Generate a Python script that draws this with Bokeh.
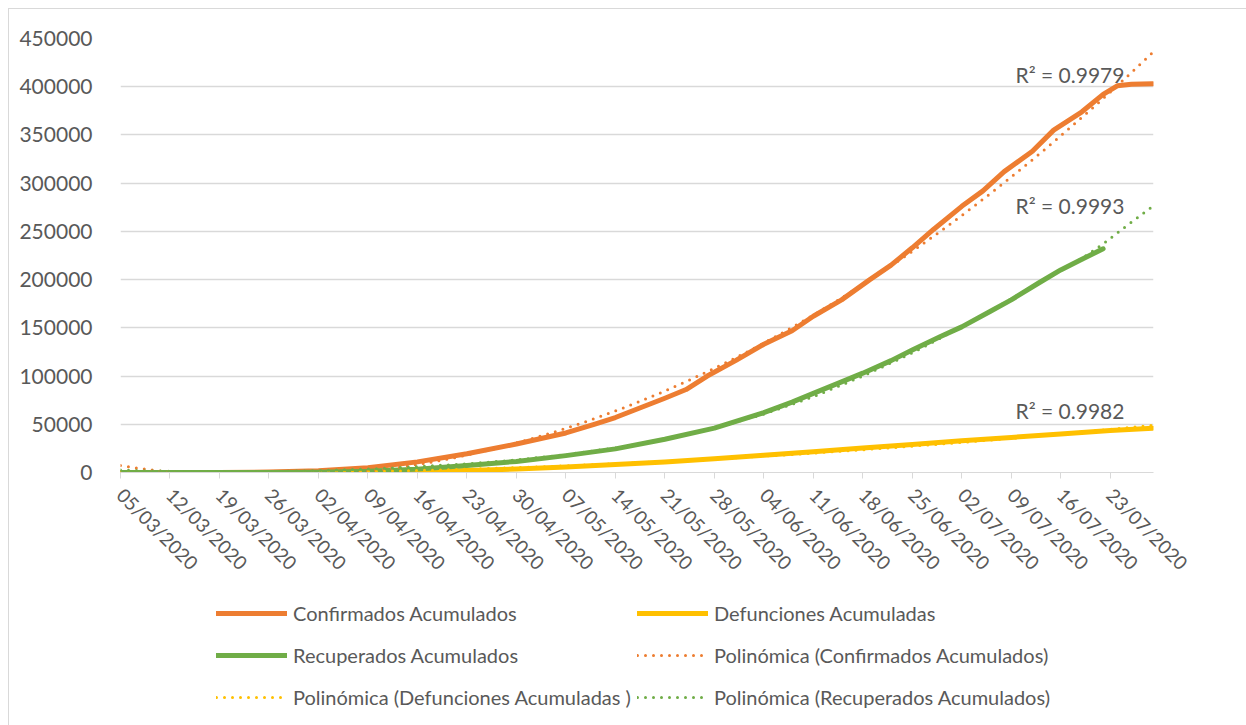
import numpy as np
import pandas as pd
from bokeh.plotting import figure
from bokeh.layouts import column
from bokeh.models import (Legend, LegendItem, FixedTicker, DatetimeTickFormatter,
                          Range1d, BasicTickFormatter, Label)
from bokeh.embed import file_html
from bokeh.resources import INLINE

# Cumulative counts (confirmed, recovered, deaths)
conf_dates = ["05/03/2020", "12/03/2020", "19/03/2020", "26/03/2020", "02/04/2020",
              "09/04/2020", "16/04/2020", "23/04/2020", "30/04/2020", "07/05/2020",
              "11/05/2020", "14/05/2020", "21/05/2020", "24/05/2020", "27/05/2020",
              "31/05/2020", "04/06/2020", "08/06/2020", "11/06/2020", "15/06/2020",
              "19/06/2020", "22/06/2020", "25/06/2020", "28/06/2020", "02/07/2020",
              "05/07/2020", "08/07/2020", "12/07/2020", "15/07/2020", "19/07/2020",
              "22/07/2020", "24/07/2020", "26/07/2020", "29/07/2020"]
conf_vals = [0, 20, 100, 450, 1800,
             5000, 11000, 19500, 29500, 41000,
             50000, 57000, 77000, 86000, 100000,
             116000, 133000, 147000, 162000, 179000,
             200000, 215000, 233000, 252000, 276000,
             292000, 312000, 333000, 355000, 374000,
             392000, 401000, 402500, 403000]

rec_dates = ["05/03/2020", "19/03/2020", "26/03/2020", "02/04/2020", "09/04/2020",
             "16/04/2020", "23/04/2020", "30/04/2020", "07/05/2020", "14/05/2020",
             "21/05/2020", "28/05/2020", "04/06/2020", "08/06/2020", "11/06/2020",
             "15/06/2020", "18/06/2020", "22/06/2020", "25/06/2020", "29/06/2020",
             "02/07/2020", "06/07/2020", "09/07/2020", "13/07/2020", "16/07/2020",
             "19/07/2020", "22/07/2020"]
rec_vals = [0, 5, 30, 300, 1200,
            3500, 7300, 11500, 17500, 24500,
            34500, 46000, 62000, 73000, 82000,
            94000, 103000, 116000, 127000, 141000,
            151000, 167000, 179000, 197000, 210000,
            221000, 232000]

def_dates = ["05/03/2020", "19/03/2020", "26/03/2020", "02/04/2020", "09/04/2020",
             "16/04/2020", "23/04/2020", "30/04/2020", "07/05/2020", "14/05/2020",
             "21/05/2020", "28/05/2020", "04/06/2020", "11/06/2020", "18/06/2020",
             "25/06/2020", "02/07/2020", "09/07/2020", "16/07/2020", "23/07/2020",
             "29/07/2020"]
def_vals = [0, 2, 10, 60, 250,
            800, 2000, 3600, 5800, 8200,
            11000, 14200, 17800, 21500, 25300,
            29000, 32800, 36400, 40000, 43500,
            46000]

# polynomial trend of the recovered series, as drawn (it bends upward past the data)
rec_trend_dates = ["05/03/2020", "12/03/2020", "19/03/2020", "26/03/2020", "02/04/2020",
                   "09/04/2020", "16/04/2020", "23/04/2020", "30/04/2020", "07/05/2020",
                   "14/05/2020", "21/05/2020", "28/05/2020", "04/06/2020", "11/06/2020",
                   "18/06/2020", "25/06/2020", "02/07/2020", "09/07/2020", "13/07/2020",
                   "16/07/2020", "19/07/2020", "22/07/2020", "25/07/2020", "27/07/2020",
                   "29/07/2020"]
rec_trend_vals = [2500, 1200, 700, 900, 1900,
                  3600, 6000, 9000, 13000, 18500,
                  25500, 34500, 46000, 60500, 78500,
                  100000, 124000, 151000, 180000, 197000,
                  210000, 222000, 237000, 254000, 265000,
                  276000]

tick_labels = ["05/03/2020", "12/03/2020", "19/03/2020", "26/03/2020", "02/04/2020",
               "09/04/2020", "16/04/2020", "23/04/2020", "30/04/2020", "07/05/2020",
               "14/05/2020", "21/05/2020", "28/05/2020", "04/06/2020", "11/06/2020",
               "18/06/2020", "25/06/2020", "02/07/2020", "09/07/2020", "16/07/2020",
               "23/07/2020"]
y_ticks = [0, 50000, 100000, 150000, 200000, 250000, 300000, 350000, 400000, 450000]

series_names = ["Confirmados Acumulados", "Defunciones Acumuladas", "Recuperados Acumulados"]
trend_names = ["Polinómica (Confirmados Acumulados)",
               "Polinómica (Defunciones Acumuladas )",
               "Polinómica (Recuperados Acumulados)"]
r2_labels = ["R² = 0.9979", "R² = 0.9982", "R² = 0.9993"]

ORANGE, YELLOW, GREEN = "#ED7D31", "#FFC000", "#70AD47"
TEXT, GRID = "#595959", "#D9D9D9"
FONT = "Lato"

W, H_CHART, H_LEGEND = 1237, 582, 134

def to_dt(labels):
    return pd.to_datetime(labels, format="%d/%m/%Y")

start = to_dt(["05/03/2020"])[0]
end = to_dt(["29/07/2020"])[0]

def days(dts):
    return np.asarray((dts - start) / pd.Timedelta(days=1), dtype=float)

def poly_trend(dts, vals, last_day, deg=2):
    """Least-squares polynomial trendline, each sample weighted by the span it covers."""
    t = days(dts)
    v = np.asarray(vals, dtype=float)
    span = np.gradient(t)
    coef = np.polyfit(t, v, deg, w=np.sqrt(span))
    grid = np.linspace(0, last_day, 400)
    return start + pd.to_timedelta(grid, unit="D"), np.polyval(coef, grid)

p = figure(width=W, height=H_CHART, x_axis_type="datetime",
           output_backend="svg", toolbar_location=None,
           min_border_left=111, min_border_right=93,
           min_border_top=29, min_border_bottom=H_CHART - 463,
           x_range=Range1d(start, end + pd.Timedelta(hours=3)),
           y_range=Range1d(0, 450000))
p.outline_line_color = None
p.background_fill_color = "white"
p.border_fill_color = "white"

# axes
p.xaxis.ticker = FixedTicker(ticks=[d.value // 10**6 for d in to_dt(tick_labels)])
p.xaxis.formatter = DatetimeTickFormatter(days="%d/%m/%Y", months="%d/%m/%Y",
                                          hours="%d/%m/%Y", years="%d/%m/%Y")
p.xaxis.major_label_orientation = -np.pi / 4
p.xaxis.axis_line_color = GRID
p.xaxis.major_tick_line_color = GRID
p.xaxis.major_tick_out = 6
p.xaxis.major_tick_in = 0
p.xaxis.minor_tick_line_color = None
p.xaxis.major_label_text_font = FONT
p.xaxis.major_label_text_font_size = "19px"
p.xaxis.major_label_text_color = TEXT
p.xaxis.major_label_standoff = 13

p.yaxis.ticker = FixedTicker(ticks=y_ticks)
p.yaxis.formatter = BasicTickFormatter(use_scientific=False)
p.yaxis.axis_line_color = None
p.yaxis.major_tick_line_color = None
p.yaxis.minor_tick_line_color = None
p.yaxis.major_label_text_font = FONT
p.yaxis.major_label_text_font_size = "21px"
p.yaxis.major_label_text_color = TEXT
p.yaxis.major_label_standoff = 22

p.xgrid.grid_line_color = None
p.ygrid.grid_line_color = GRID
p.ygrid.grid_line_width = 1.3

# data series
solid_style = dict(line_width=5, line_cap="round", line_join="round")
trend_style = dict(line_width=3, line_dash="0 8", line_cap="round")

p.line(to_dt(conf_dates), conf_vals, color=ORANGE, **solid_style)
p.line(to_dt(def_dates), def_vals, color=YELLOW, **solid_style)
p.line(to_dt(rec_dates), rec_vals, color=GREEN, **solid_style)

# polynomial trendlines
last_day = days(pd.DatetimeIndex([end]))[0]
tx, ty = poly_trend(to_dt(conf_dates), conf_vals, last_day)
p.line(tx, ty, color=ORANGE, **trend_style)
tx, ty = poly_trend(to_dt(def_dates), def_vals, last_day)
p.line(tx, ty, color=YELLOW, **trend_style)
p.line(to_dt(rec_trend_dates), rec_trend_vals, color=GREEN, **trend_style)

# R² annotations near the end of each trendline
label_x = start + pd.Timedelta(days=126.6)
for txt, yv in zip(r2_labels, [413000, 64500, 277000]):
    p.add_layout(Label(x=label_x, y=yv, text=txt, text_font=FONT,
                       text_font_size="21px", text_color=TEXT,
                       text_align="left", text_baseline="alphabetic"))

# legend strip under the chart: two columns of three entries
lg = figure(width=W, height=H_LEGEND, output_backend="svg", toolbar_location=None,
            x_axis_location=None, y_axis_location=None,
            min_border=0, x_range=(0, 1), y_range=(0, 1))
lg.outline_line_color = None
lg.xgrid.visible = False
lg.ygrid.visible = False

def key(color, style):
    # off-range stroke: only its legend swatch shows
    return lg.line([-2, -1], [-2, -1], color=color, **style)

k_conf = key(ORANGE, solid_style)
k_def = key(YELLOW, solid_style)
k_rec = key(GREEN, solid_style)
kt_conf = key(ORANGE, trend_style)
kt_def = key(YELLOW, trend_style)
kt_rec = key(GREEN, trend_style)

def add_legend(pairs, x):
    leg = Legend(items=[LegendItem(label=lbl, renderers=[r]) for lbl, r in pairs],
                 location=(x, 16), orientation="vertical",
                 label_text_font=FONT, label_text_font_size="20px",
                 label_text_color=TEXT, label_standoff=6,
                 glyph_width=71, glyph_height=24, label_height=24,
                 spacing=18, padding=0, margin=0,
                 border_line_color=None, background_fill_alpha=0)
    lg.add_layout(leg)

# the legend frame lines up with the chart frame (left edge at the first tick)
add_legend([(series_names[0], k_conf), (series_names[2], k_rec),
            (trend_names[1], kt_def)], 96)
add_legend([(series_names[1], k_def), (trend_names[0], kt_conf),
            (trend_names[2], kt_rec)], 517)

page = column(p, lg, spacing=0,
              styles={"margin-left": "8px", "margin-top": "8px",
                      "border-left": f"1px solid {GRID}",
                      "border-top": f"1px solid {GRID}"})

open("out.html", "w").write(file_html(page, INLINE))
